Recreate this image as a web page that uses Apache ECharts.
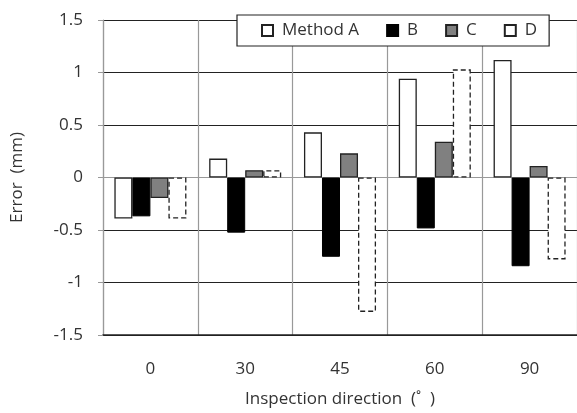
<!DOCTYPE html>
<html>
<head>
<meta charset="utf-8">
<script src="https://cdn.jsdelivr.net/npm/echarts@6/dist/echarts.min.js"></script>
<style>html,body{margin:0;padding:0;background:#fff}#c{width:577px;height:413px}</style>
</head>
<body>
<div id="c"></div>
<script>
var categories = ['0', '30', '45', '60', '90'];
var methodA = [-0.39, 0.18, 0.43, 0.94, 1.12];
var methodB = [-0.37, -0.525, -0.755, -0.485, -0.845];
var methodC = [-0.195, 0.07, 0.23, 0.34, 0.11];
var methodD = [-0.39, 0.07, -1.28, 1.03, -0.78];
var seriesNames = ['Method A', 'B', 'C', 'D'];
var yTicks = [-1.5, -1, -0.5, 0, 0.5, 1, 1.5];

var FONT = 'Open Sans';
var TXT = '#333';
var chart = echarts.init(document.getElementById('c'), null, {renderer: 'canvas'});
function bar(name, data, style) {
  return {name: name, type: 'bar', data: data, barGap: '0%', barCategoryGap: '24%',
    itemStyle: style, emphasis: {disabled: true}, animation: false};
}
chart.setOption({
  animation: false,
  textStyle: {fontFamily: FONT},
  grid: {left: 103, right: 0, top: 20, bottom: 75, containLabel: false},
  legend: {
    left: 237, top: 15, width: 300, height: 20,
    padding: [7, 12, 7, 24],
    backgroundColor: '#fff', borderColor: '#222', borderWidth: 1.2,
    icon: 'rect',
    itemWidth: 11, itemHeight: 11, itemGap: 27,
    textStyle: {fontFamily: FONT, fontSize: 17, color: TXT, padding: [0, 0, 0, 4]},
    data: seriesNames
  },
  xAxis: {
    type: 'category', data: categories,
    axisLine: {onZero: false, lineStyle: {color: '#222', width: 1.5}},
    axisTick: {show: false},
    axisLabel: {margin: 26, fontSize: 17, color: TXT, fontFamily: FONT},
    splitLine: {show: true, lineStyle: {color: '#999', width: 1.2}},
    name: 'Inspection direction  (\u02da  )', nameLocation: 'middle', nameGap: 56,
    nameTextStyle: {fontSize: 17, color: TXT, fontFamily: FONT}
  },
  yAxis: {
    type: 'value', min: -1.5, max: 1.5, interval: 0.5,
    axisLine: {show: true, lineStyle: {color: '#999', width: 1.2}},
    axisTick: {show: true, length: 5, lineStyle: {color: '#999'}},
    axisLabel: {margin: 20, fontSize: 17, color: TXT, fontFamily: FONT,
      formatter: function (v) { return yTicks.indexOf(v) >= 0 ? String(v) : ''; }},
    splitLine: {show: true, lineStyle: {color: ['#222', '#222', '#222', '#999', '#222', '#222', '#222'], width: 1.2}},
    name: 'Error  (mm)', nameLocation: 'middle', nameGap: 77, nameRotate: 90,
    nameTextStyle: {fontSize: 17, color: TXT, fontFamily: FONT}
  },
  series: [
    bar(seriesNames[0], methodA, {color: '#fff', borderColor: '#222', borderWidth: 1.3}),
    bar(seriesNames[1], methodB, {color: '#000', borderColor: '#000', borderWidth: 1}),
    bar(seriesNames[2], methodC, {color: '#808080', borderColor: '#222', borderWidth: 1.3}),
    bar(seriesNames[3], methodD, {color: '#fff', borderColor: '#222', borderWidth: 1.3, borderType: [5, 3]})
  ]
});
</script>
</body>
</html>
